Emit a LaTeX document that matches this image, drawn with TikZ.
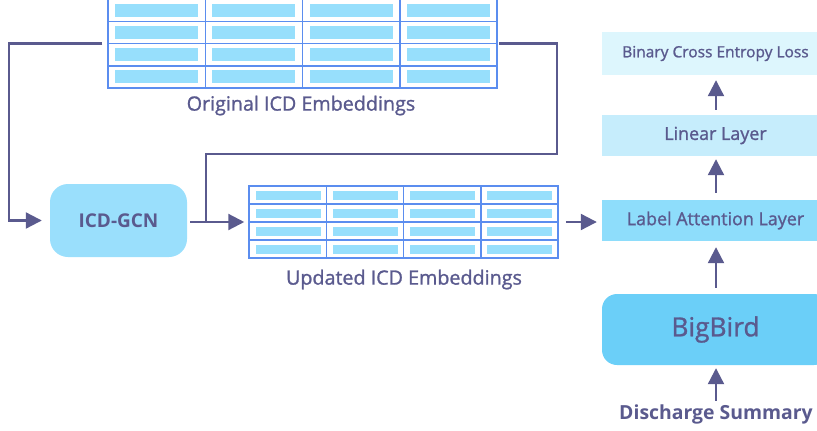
\documentclass[tikz,border=0pt]{standalone}
\usepackage{fontspec}
\setmainfont{Open Sans}
\newfontfamily\semi{Open Sans}[FakeBold=1.2]
\usetikzlibrary{arrows.meta,positioning}
\definecolor{ink}{HTML}{5A5A8E}
\definecolor{gridblue}{HTML}{5B8DEF}
\definecolor{cellfill}{HTML}{97DFFC}
\definecolor{lossfill}{HTML}{DDF6FD}
\definecolor{linfill}{HTML}{C6EDFC}
\definecolor{attfill}{HTML}{8EDDFB}
\definecolor{birdfill}{HTML}{6BCFF8}
\definecolor{gcnfill}{HTML}{9ADFFC}

\begin{document}
\begin{tikzpicture}[
    x=1pt, y=-1pt,
    >={Triangle[length=16pt,width=16pt]},
    tbl/.style    = {rectangle, draw=gridblue, line width=1.5pt, inner sep=0pt},
    gridline/.style = {draw=gridblue, line width=1.5pt},
    cell/.style   = {fill=cellfill, draw=white, line width=0.6pt},
    layer/.style  = {rectangle, minimum width=227pt, inner sep=0pt,
                     text=ink, font=\semi\fontsize{17.9}{21}\selectfont},
    gcnbox/.style = {rectangle, rounded corners=18pt, fill=gcnfill,
                     minimum width=137pt, minimum height=73pt, inner sep=0pt,
                     text=ink, font=\fontsize{19}{22}\selectfont\bfseries},
    lbl/.style    = {text=ink, font=\semi\fontsize{19.7}{23}\selectfont, inner sep=0pt},
    flow/.style   = {->, draw=ink, line width=2.2pt},
    link/.style   = {draw=ink, line width=2.2pt},
  ]
  \useasboundingbox (0,0) rectangle (817,431);
  \clip (0,0) rectangle (817,431);
  % original embedding table
  \node[tbl, minimum width=389pt, minimum height=89pt] (orig) at (302.5,43.5) {};
  \foreach \c in {0,...,3}{
    \foreach \r in {0,...,3}{
      \path[cell] (108+\c*97.25+6.5, -1+\r*22.25+4) rectangle ++(84,14);
    }
  }
  \foreach \c in {1,2,3}{
    \draw[gridline] (108+\c*97.25,-1) -- (108+\c*97.25,88);
  }
  \foreach \r in {1,2,3}{
    \draw[gridline] (108,-1+\r*22.25) -- (497,-1+\r*22.25);
  }
  \node[lbl] (origlbl) at (301,105.5) {Original ICD Embeddings};
  % updated embedding table
  \node[tbl, minimum width=309pt, minimum height=72pt] (upd) at (403.5,222) {};
  \foreach \c in {0,...,3}{
    \foreach \r in {0,...,3}{
      \path[cell] (249+\c*77.25+6, 186+\r*18+4) rectangle ++(66,10.5);
    }
  }
  \foreach \c in {1,2,3}{
    \draw[gridline] (249+\c*77.25,186) -- (249+\c*77.25,258);
  }
  \foreach \r in {1,2,3}{
    \draw[gridline] (249,186+\r*18) -- (558,186+\r*18);
  }
  \node[lbl] (updlbl) at (404,279.5) {Updated ICD Embeddings};
  % graph network
  \node[gcnbox] (gcn) at (118.5,220.5) {ICD-GCN};
  % right column
  \node[layer, fill=lossfill, minimum height=43pt,
        font=\semi\fontsize{15.5}{18}\selectfont] (loss) at (715.5,53.5) {Binary Cross Entropy Loss};
  \node[layer, fill=linfill, minimum height=41pt] (lin) at (715.5,135.5) {Linear Layer};
  \node[layer, fill=attfill, minimum height=41pt] (att) at (715.5,220.5) {Label Attention Layer};
  \node[layer, fill=birdfill, rounded corners=15pt, minimum height=71pt,
        font=\semi\fontsize{26.3}{31}\selectfont] (bird) at (715.5,329.5) {BigBird};
  \node[lbl, font=\fontsize{19.4}{23}\selectfont\bfseries] (summ) at (716,414.5) {Discharge Summary};
  % connectors
  \coordinate (lcorner) at (9,43.5);
  \coordinate (split)   at (206,222);
  \coordinate (rcorner) at (557,154);
  \draw[flow, shorten <=5pt, shorten >=8pt] (orig.west) -- (lcorner) |- (gcn.west);
  \draw[flow, shorten <=3pt, shorten >=4pt] (gcn.east |- upd.west) -- (upd.west);
  \draw[link, shorten >=1pt] (split) |- (rcorner) |- (orig.east);
  \draw[flow, shorten <=7pt, shorten >=5pt] (upd.east) -- (upd.east -| att.west);
  \draw[flow, shorten <=6pt, shorten >=6pt] (bird.north -| 716,0) -- (att.south -| 716,0);
  \draw[flow, shorten <=7pt, shorten >=3pt] (att.north -| 716,0) -- (lin.south -| 716,0);
  \draw[flow, shorten <=5pt, shorten >=5pt] (lin.north -| 716,0) -- (loss.south -| 716,0);
  \draw[flow, shorten <=4pt, shorten >=3pt] (summ.north) -- (summ.north |- bird.south);
\end{tikzpicture}
\end{document}
